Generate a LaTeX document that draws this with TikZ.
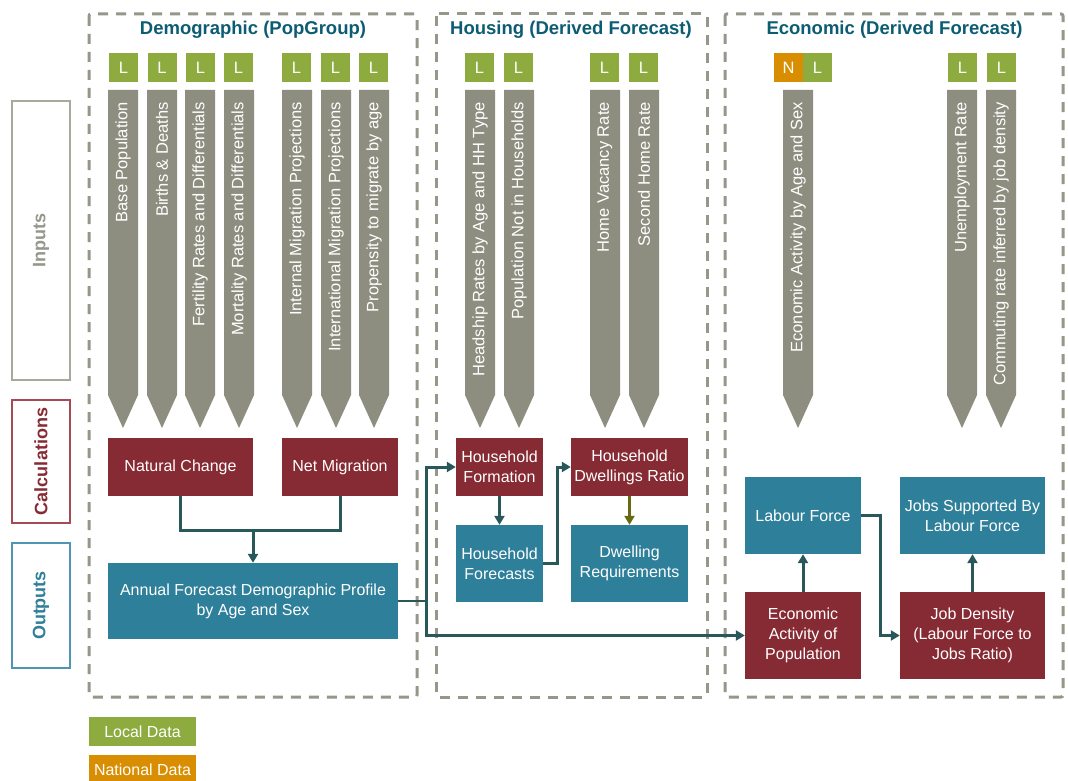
\documentclass[tikz,border=0pt]{standalone}
\usepackage{fontspec}
\setmainfont{Liberation Sans}
\usetikzlibrary{arrows.meta,calc}
\definecolor{bargray}{RGB}{142,142,128}
\definecolor{lgreen}{RGB}{141,171,63}
\definecolor{norange}{RGB}{216,142,0}
\definecolor{calcred}{RGB}{134,42,51}
\definecolor{outteal}{RGB}{46,127,153}
\definecolor{titleteal}{RGB}{12,92,115}
\definecolor{conn}{RGB}{40,88,90}
\definecolor{olivearr}{RGB}{105,105,20}
\definecolor{dashgray}{RGB}{150,150,138}
\definecolor{inbord}{RGB}{168,168,156}
\definecolor{intext}{RGB}{150,150,140}
\definecolor{calcbord}{RGB}{165,75,85}
\definecolor{outbord}{RGB}{80,150,180}
\tikzset{
  secbox/.style={draw=dashgray, line width=3pt, dash pattern=on 10pt off 8pt, rounded corners=2pt},
  sectitle/.style={text=titleteal, font=\fontsize{18.5}{22}\selectfont\bfseries, anchor=base, inner sep=0pt},
  tag/.style={fill=lgreen, text=white, minimum width=29pt, minimum height=29pt, inner sep=0pt, font=\fontsize{16.5}{19}\selectfont},
  ntag/.style={tag, fill=norange},
  bartext/.style={rotate=90, anchor=east, text=white, inner sep=0pt, font=\fontsize{16.5}{19}\selectfont},
  calcbox/.style={fill=calcred, text=white, inner sep=0pt, align=center, font=\fontsize{16}{20}\selectfont},
  outbox/.style={fill=outteal, text=white, inner sep=0pt, align=center, font=\fontsize{16}{20}\selectfont},
  rowlabel/.style={rotate=90, line width=1.3pt, fill=white, inner sep=0pt, font=\fontsize{18}{22}\selectfont\bfseries},
  link/.style={draw=conn, line width=3pt},
  arr/.style={link, -{Triangle[width=10pt,length=9pt]}},
  legendbox/.style={text=white, minimum width=107pt, minimum height=29pt, inner sep=0pt, font=\fontsize{16}{19}\selectfont}
}
\newcommand{\inbar}[2]{%
  \fill[bargray] ({#1-15},90) -- ({#1+15},90) -- ({#1+15},395) -- (#1,428) -- ({#1-15},395) -- cycle;
  \node[bartext] at (#1,102) {#2};}
\begin{document}
\begin{tikzpicture}[x=1pt,y=-1pt]
\clip (0,0) rectangle (1068,781);
\fill[white] (0,0) rectangle (1068,781);

% section frames
\draw[secbox] (89,14) rectangle (417,697);
\draw[secbox] (436,14) rectangle (707,697);
\draw[secbox] (725,14) rectangle (1063,697);
\node[sectitle] (tdem) at (253,35) {Demographic (PopGroup)};
\node[sectitle] (thou) at (571,35) {Housing (Derived Forecast)};
\node[sectitle] (teco) at (894.5,35) {Economic (Derived Forecast)};

% row labels
\node[rowlabel, draw=inbord, text=intext, minimum width=279pt, minimum height=58pt] (rin) at (41,240.5) {Inputs};
\node[rowlabel, draw=calcbord, text=calcred, minimum width=123pt, minimum height=58pt] (rcalc) at (41,461.5) {Calculations};
\node[rowlabel, draw=outbord, text=outteal, minimum width=125pt, minimum height=58pt] (rout) at (41,605.5) {Outputs};

% tags
\foreach \x/\n in {123.5/d1,162/d2,200.5/d3,238.5/d4,296.5/d5,335.5/d6,373.5/d7,479.5/h1,518.5/h2,604.5/h3,643.5/h4,817.5/e1,962.5/e2,1001.5/e3}
  \node[tag] (tag\n) at (\x,67.5) {L};
\node[ntag] (tagen) at (788.5,67.5) {N};

% input bars
\inbar{123}{Base Population}
\inbar{162}{Births \& Deaths}
\inbar{200}{Fertility Rates and Differentials}
\inbar{239}{Mortality Rates and Differentials}
\inbar{297}{Internal Migration Projections}
\inbar{336}{International Migration Projections}
\inbar{374}{Propensity to migrate by age}
\inbar{480}{Headship Rates by Age and HH Type}
\inbar{519}{Population Not in Households}
\inbar{605}{Home Vacancy Rate}
\inbar{644}{Second Home Rate}
\inbar{798}{Economic Activity by Age and Sex}
\inbar{962}{Unemployment Rate}
\inbar{1001}{Commuting rate inferred by job density}

% calculation and output boxes
\node[calcbox, minimum width=145pt, minimum height=58pt] (nc) at (180.5,467) {Natural Change};
\node[calcbox, minimum width=116pt, minimum height=58pt] (nm) at (340,467) {Net Migration};
\node[outbox, minimum width=290pt, minimum height=76pt] (afd) at (253,601) {Annual Forecast Demographic Profile\\by Age and Sex};
\node[calcbox, minimum width=87pt, minimum height=58pt] (hf) at (499.5,467) {Household\\Formation};
\node[calcbox, minimum width=117pt, minimum height=58pt] (hdr) at (629.5,467) {Household\\Dwellings Ratio};
\node[outbox, minimum width=87pt, minimum height=77pt] (hfc) at (499.5,563.5) {Household\\Forecasts};
\node[outbox, minimum width=117pt, minimum height=77pt] (dr) at (629.5,563.5) {Dwelling\\Requirements};
\node[outbox, minimum width=116pt, minimum height=77pt] (lf) at (803,515.5) {Labour Force};
\node[outbox, minimum width=145pt, minimum height=77pt] (js) at (972.5,515.5) {Jobs Supported By\\Labour Force};
\node[calcbox, minimum width=116pt, minimum height=87pt] (ea) at (803,635.5) {Economic\\Activity of\\Population};
\node[calcbox, minimum width=145pt, minimum height=87pt] (jd) at (972.5,635.5) {Job Density\\(Labour Force to\\Jobs Ratio)};

% connectors
\coordinate (mj) at (253,530);
\draw[link] (nc.south) |- (mj) -| (nm.south);
\draw[arr] (mj) -- (afd.north);
\coordinate (aj) at (426,601);
\draw[draw=conn, line width=2pt] (afd.east) -- (aj);
\draw[arr] (aj) |- (hf.west);
\draw[arr] (aj) |- (ea.west);
\draw[arr] (hf.south) -- (hfc.north);
\draw[arr] (hfc.east) -- ++(14,0) |- (hdr.west);
\draw[arr, draw=olivearr] (hdr.south) -- (dr.north);
\draw[arr] (ea.north) -- (lf.south);
\draw[arr] (lf.east) -- ++(19,0) |- (jd.west);
\draw[arr] (jd.north) -- (js.south);

% legend
\node[legendbox, fill=lgreen] (leglocal) at (142.5,731.5) {Local Data};
\node[legendbox, fill=norange] (legnat) at (142.5,769.5) {National Data};
\end{tikzpicture}
\end{document}
